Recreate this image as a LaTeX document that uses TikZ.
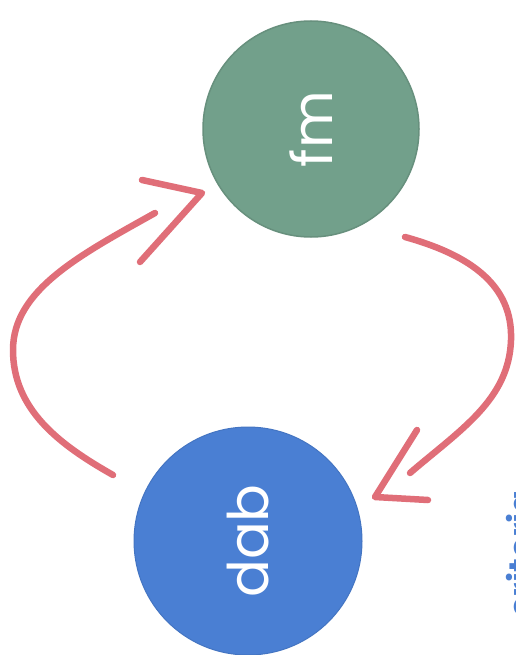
\documentclass[tikz,border=0pt]{standalone}
\usepackage{fontspec}
\setmainfont{Poppins}
\definecolor{fmgreen}{HTML}{72A08B}
\definecolor{dabblue}{HTML}{4A7FD3}
\definecolor{penred}{HTML}{E06E78}
\begin{document}
\begin{tikzpicture}[x=1pt,y=-1pt,
  bubble/.style={circle, inner sep=0pt, text=white, rotate=90,
                 font=\fontsize{56}{56}\selectfont},
  pen/.style={draw=penred, line width=6.5pt, line cap=round, line join=round}]
  \useasboundingbox (0,0) rectangle (515,655);
  \fill[white] (0,0) rectangle (515,655);

  % the two bubbles
  \node[bubble, fill=fmgreen, draw=fmgreen!90!black, line width=1.5pt,
        minimum size=216pt] (fm) at (311,129) {fm};
  \node[bubble, fill=dabblue, draw=dabblue!92!black, line width=1pt,
        minimum size=228pt] (dab) at (248,541) {dab};

  % left loop: dab -> fm
  \coordinate (ltail) at (113,475);
  \coordinate (lmid)  at (13,350);
  \coordinate (lend)  at (155,213);
  \coordinate (ltip)  at (202,193);
  \coordinate (lbarbA) at (142,180);
  \coordinate (lbarbB) at (140,262);
  \draw[pen] (ltail) .. controls (60,445) and (13,410) .. (lmid)
             .. controls (13,290) and (80,255) .. (lend);
  \draw[pen] (lbarbA) -- (ltip) -- (lbarbB);

  % right loop: fm -> dab
  \coordinate (rtail) at (405,237);
  \coordinate (rmid)  at (511,340);
  \coordinate (rend)  at (410,473);
  \coordinate (rtip)  at (375,497);
  \coordinate (rbarbA) at (417,430);
  \coordinate (rbarbB) at (428,500);
  \draw[pen] (rtail) .. controls (470,255) and (513,285) .. (rmid)
             .. controls (509,400) and (460,430) .. (rend);
  \draw[pen] (rbarbA) -- (rtip) -- (rbarbB);

  % caption running off the right edge
  \begin{scope}
    \clip (0,0) rectangle (515,655);
    \node[rotate=90, anchor=base east, text=dabblue, inner sep=0pt,
          font=\fontsize{34}{34}\selectfont\bfseries] (side) at (533,490) {criteria};
  \end{scope}
\end{tikzpicture}
\end{document}
